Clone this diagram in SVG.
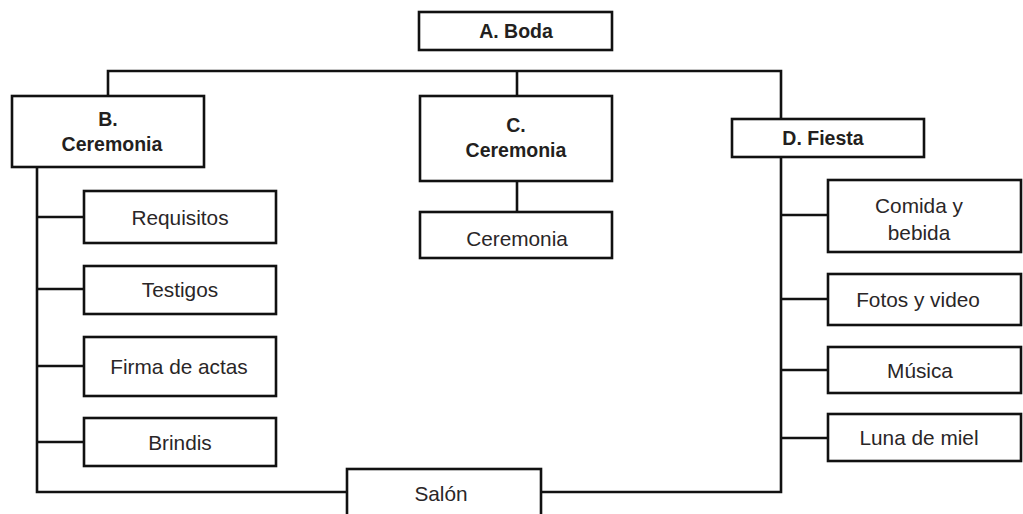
<svg xmlns="http://www.w3.org/2000/svg" width="1023" height="514" viewBox="0 0 1023 514">
  <style>
    .box { fill: #ffffff; stroke: #111111; stroke-width: 2.6; }
    .link { fill: none; stroke: #111111; stroke-width: 2.6; }
    .t { font-family: "Liberation Sans", Arial, sans-serif; font-size: 20.8px; fill: #2a2627; text-anchor: middle; dominant-baseline: central; }
    .b { font-size: 19.5px; font-weight: bold; fill: #231f20; }
  </style>
  <rect width="1023" height="514" fill="#ffffff"/>

  <!-- connectors -->
  <g id="connectors">
    <path class="link" d="M108,96 V71 H781 V119"/>
    <path class="link" d="M517,71 V96"/>
    <path class="link" d="M517,181 V212"/>
    <path class="link" d="M37,167 V492 H347"/>
    <path class="link" d="M37,217 H84 M37,289 H84 M37,366 H84 M37,442 H84"/>
    <path class="link" d="M781,157 V492 H541"/>
    <path class="link" d="M781,215 H828 M781,299 H828 M781,370 H828 M781,438 H828"/>
  </g>

  <g id="a-boda">
    <rect class="box" x="419" y="12" width="193" height="38"/>
    <text class="t b" x="516" y="31">A. Boda</text>
  </g>

  <g id="b-ceremonia">
    <rect class="box" x="12" y="96" width="192" height="71"/>
    <text class="t b" x="108" y="119">B.</text>
    <text class="t b" x="112" y="144">Ceremonia</text>
  </g>

  <g id="c-ceremonia">
    <rect class="box" x="420" y="96" width="192" height="85"/>
    <text class="t b" x="516" y="125">C.</text>
    <text class="t b" x="516" y="150">Ceremonia</text>
  </g>

  <g id="d-fiesta">
    <rect class="box" x="732" y="119" width="192" height="38"/>
    <text class="t b" x="823" y="138">D. Fiesta</text>
  </g>

  <g id="ceremonia">
    <rect class="box" x="420" y="212" width="192" height="46"/>
    <text class="t" x="517" y="238">Ceremonia</text>
  </g>

  <g id="requisitos">
    <rect class="box" x="84" y="191" width="192" height="52"/>
    <text class="t" x="180" y="217">Requisitos</text>
  </g>

  <g id="testigos">
    <rect class="box" x="84" y="266" width="192" height="48"/>
    <text class="t" x="180" y="289">Testigos</text>
  </g>

  <g id="firma-de-actas">
    <rect class="box" x="84" y="337" width="192" height="59"/>
    <text class="t" x="179" y="366">Firma de actas</text>
  </g>

  <g id="brindis">
    <rect class="box" x="84" y="418" width="192" height="48"/>
    <text class="t" x="180" y="442">Brindis</text>
  </g>

  <g id="salon">
    <rect class="box" x="347" y="469" width="194" height="60"/>
    <text class="t" x="441" y="493">Salón</text>
  </g>

  <g id="comida-y-bebida">
    <rect class="box" x="828" y="180" width="193" height="72"/>
    <text class="t" x="919" y="205">Comida y</text>
    <text class="t" x="919" y="232">bebida</text>
  </g>

  <g id="fotos-y-video">
    <rect class="box" x="828" y="274" width="193" height="51"/>
    <text class="t" x="918" y="299">Fotos y video</text>
  </g>

  <g id="musica">
    <rect class="box" x="828" y="347" width="193" height="46"/>
    <text class="t" x="920" y="370">Música</text>
  </g>

  <g id="luna-de-miel">
    <rect class="box" x="828" y="414" width="193" height="47"/>
    <text class="t" x="919" y="437">Luna de miel</text>
  </g>
</svg>
